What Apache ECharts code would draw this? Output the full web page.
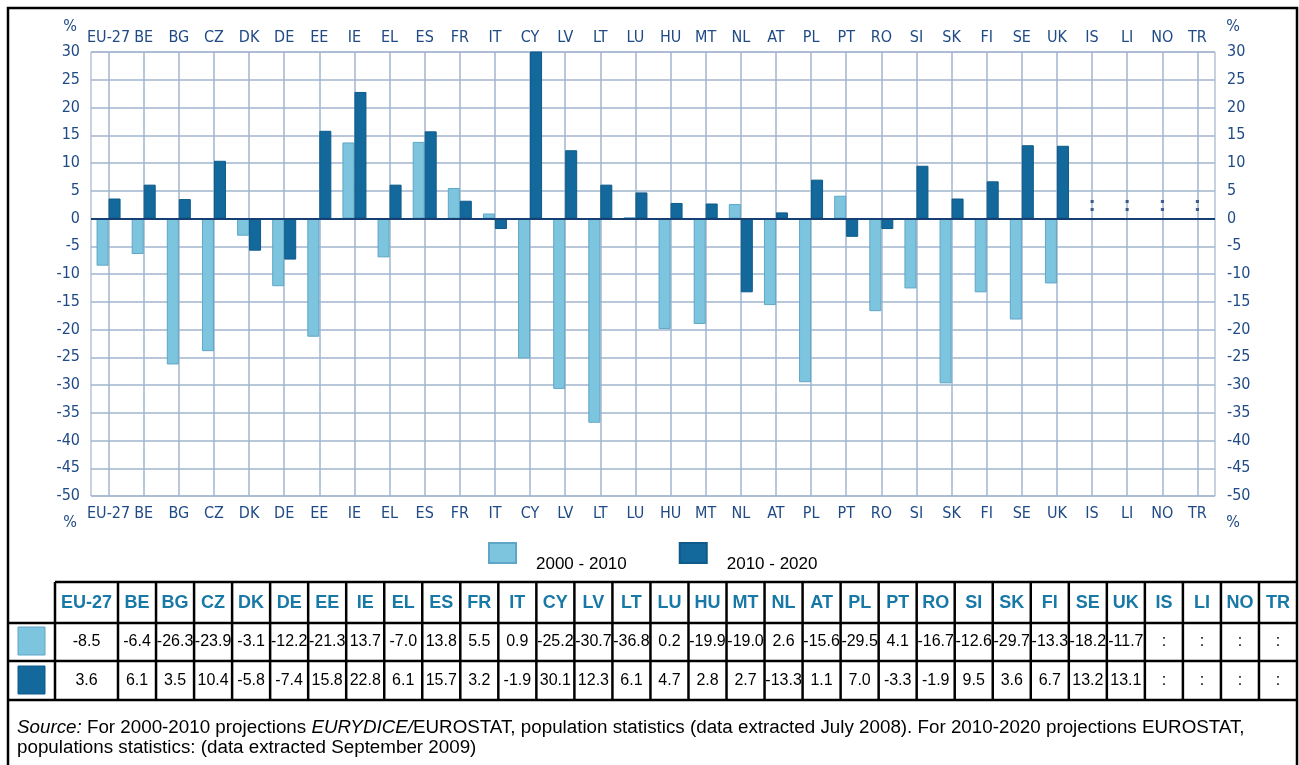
<!DOCTYPE html>
<html>
<head>
<meta charset="utf-8">
<title>Population change 2000-2010 / 2010-2020</title>
<script src="https://cdn.jsdelivr.net/npm/echarts@6/dist/echarts.min.js"></script>
<style>
  html, body { margin: 0; padding: 0; background: #fff; }
  #main { width: 1299px; height: 765px; }
</style>
</head>
<body>
<div id="main"></div>
<script>
// data
var categories = ['EU-27', 'BE', 'BG', 'CZ', 'DK', 'DE', 'EE', 'IE', 'EL', 'ES', 'FR', 'IT', 'CY', 'LV', 'LT', 'LU',
  'HU', 'MT', 'NL', 'AT', 'PL', 'PT', 'RO', 'SI', 'SK', 'FI', 'SE', 'UK', 'IS', 'LI', 'NO', 'TR'];
var change2000 = [-8.5, -6.4, -26.3, -23.9, -3.1, -12.2, -21.3, 13.7, -7.0, 13.8, 5.5, 0.9, -25.2, -30.7, -36.8, 0.2,
  -19.9, -19.0, 2.6, -15.6, -29.5, 4.1, -16.7, -12.6, -29.7, -13.3, -18.2, -11.7, ':', ':', ':', ':'];
var change2010 = [3.6, 6.1, 3.5, 10.4, -5.8, -7.4, 15.8, 22.8, 6.1, 15.7, 3.2, -1.9, 30.1, 12.3, 6.1, 4.7,
  2.8, 2.7, -13.3, 1.1, 7.0, -3.3, -1.9, 9.5, 3.6, 6.7, 13.2, 13.1, ':', ':', ':', ':'];
var seriesNames = ['2000 - 2010', '2010 - 2020'];
var yMin = -50, yMax = 30, yStep = 5;

var LIGHT = '#7dc4de', DARK = '#13699c';
var NAVY = '#1f4a85', GRIDC = '#a2b5ce';
var AXIS_FONT = "'Liberation Sans Narrow', 'DejaVu Sans Condensed', 'Liberation Sans', sans-serif";
var TABLE_FONT = "'Liberation Sans', Arial, sans-serif";

function toBar(arr) {
  return arr.map(function (v) { return typeof v === 'number' ? v : '-'; });
}
function fmt(v) {
  return typeof v === 'number' ? v.toFixed(1) : v;
}

var naPoints = [];
categories.forEach(function (c, i) {
  if (change2010[i] === ':') naPoints.push([c, 0]);
});

// table under the chart, built with graphic elements
var graphic = [];
var colW = (1297 - 118) / 31;
function colLeft(i) { return i === 0 ? 55 : 118 + (i - 1) * colW; }
function colRight(i) { return 118 + i * colW; }
function line(x1, y1, x2, y2, w) {
  graphic.push({ type: 'line', shape: { x1: x1, y1: y1, x2: x2, y2: y2 },
    style: { stroke: '#000', lineWidth: w || 2.5 }, silent: true });
}
function text(str, x, y, opts) {
  var st = { text: str, x: x, y: y, fill: opts.fill || '#000', fontSize: opts.size || 16,
    fontFamily: opts.family || TABLE_FONT, fontWeight: opts.weight || 'normal',
    align: opts.align || 'center', verticalAlign: 'middle',
    textAlign: opts.align || 'center', textVerticalAlign: 'middle' };
  graphic.push({ type: 'text', style: st, silent: true });
}

// outer frame
graphic.push({ type: 'rect', shape: { x: 8, y: 8, width: 1289, height: 762 },
  style: { fill: 'none', stroke: '#000', lineWidth: 2.5 }, silent: true });

var rowY = [582, 623, 661, 700];
line(55, rowY[0], 1297, rowY[0]);
line(8, rowY[1], 1297, rowY[1]);
line(8, rowY[2], 1297, rowY[2]);
line(8, rowY[3], 1297, rowY[3]);
line(55, rowY[0], 55, rowY[3]);
for (var i = 0; i < categories.length - 1; i++) {
  line(colRight(i), rowY[0], colRight(i), rowY[3]);
}
categories.forEach(function (c, i) {
  var cx = (colLeft(i) + colRight(i)) / 2;
  text(c, cx, 603, { fill: '#1878a6', size: 18, weight: 'bold' });
  text(fmt(change2000[i]), cx, 642, { size: 16 });
  text(fmt(change2010[i]), cx, 681, { size: 16 });
});
graphic.push({ type: 'rect', shape: { x: 18, y: 627, width: 27, height: 28 },
  style: { fill: LIGHT, stroke: '#5fa6c6', lineWidth: 1 }, silent: true });
graphic.push({ type: 'rect', shape: { x: 18, y: 666, width: 27, height: 28 },
  style: { fill: DARK, stroke: '#0e5a88', lineWidth: 1 }, silent: true });

// source note
graphic.push({
  type: 'text', silent: true,
  style: {
    x: 17, y: 718,
    text: '{i|Source:} For 2000-2010 projections {i|EURYDICE/}EUROSTAT, population statistics (data extracted July 2008). For 2010-2020 projections EUROSTAT,\npopulations statistics: (data extracted September 2009)',
    fontSize: 18.8, fontFamily: TABLE_FONT, fill: '#000', lineHeight: 20,
    rich: { i: { fontStyle: 'italic', fontSize: 18.8, fontFamily: TABLE_FONT, fill: '#000', lineHeight: 20 } }
  }
});

// "%" marks above and below both value axes
text('%', 70, 27, { fill: NAVY, size: 16, family: AXIS_FONT });
text('%', 1233, 27, { fill: NAVY, size: 16, family: AXIS_FONT });
text('%', 70, 523, { fill: NAVY, size: 16, family: AXIS_FONT });
text('%', 1233, 523, { fill: NAVY, size: 16, family: AXIS_FONT });

var myChart = echarts.init(document.getElementById('main'));

var axisLabelStyle = { color: NAVY, fontSize: 16, fontFamily: AXIS_FONT };

var option = {
  backgroundColor: '#fff',
  animation: false,
  grid: {
    left: 91, right: 84, top: 52, bottom: 269,
    show: true, borderColor: '#8fa6c3', borderWidth: 1,
    outerBoundsMode: 'none'
  },
  legend: {
    data: seriesNames,
    top: 542, left: 488, padding: 0,
    itemWidth: 27, itemHeight: 20, itemGap: 52,
    icon: 'rect',
    formatter: '{t|{name}}',
    textStyle: {
      fontSize: 17, fontFamily: TABLE_FONT, color: '#000',
      rich: { t: { fontSize: 17, fontFamily: TABLE_FONT, color: '#000', padding: [22, 0, 0, 15] } }
    }
  },
  xAxis: [
    {
      type: 'category', data: categories, position: 'bottom',
      axisLine: { show: false }, axisTick: { show: false },
      axisLabel: Object.assign({ interval: 0, margin: 10 }, axisLabelStyle),
      splitLine: { show: false }
    },
    {
      type: 'category', data: categories, position: 'top',
      axisLine: { show: false }, axisTick: { show: false },
      axisLabel: Object.assign({ interval: 0, margin: 6 }, axisLabelStyle),
      splitLine: { show: false }
    }
  ],
  yAxis: [
    {
      type: 'value', min: yMin, max: yMax, interval: yStep, position: 'left',
      axisLine: { show: false }, axisTick: { show: false },
      axisLabel: Object.assign({ margin: 11 }, axisLabelStyle),
      splitLine: { show: true, lineStyle: { color: GRIDC, width: 1.5 } }
    },
    {
      type: 'value', min: yMin, max: yMax, interval: yStep, position: 'right',
      axisLine: { show: false }, axisTick: { show: false },
      axisLabel: Object.assign({ margin: 12 }, axisLabelStyle),
      splitLine: { show: false }
    }
  ],
  series: [
    {
      name: seriesNames[0], type: 'bar', data: toBar(change2000),
      barWidth: 12, barGap: '0%', z: 3,
      itemStyle: { color: LIGHT, borderColor: '#5fa6c6', borderWidth: 1 }
    },
    {
      name: seriesNames[1], type: 'bar', data: toBar(change2010),
      barWidth: 12, barGap: '0%', z: 3,
      itemStyle: { color: DARK, borderColor: '#0e5a88', borderWidth: 1 },
      markLine: {
        silent: true, symbol: 'none', animation: false, z: 6,
        label: { show: false },
        lineStyle: { color: '#163f73', width: 2, type: 'solid' },
        data: [{ yAxis: 0 }]
      }
    },
    {
      name: 'n/a', type: 'scatter', data: naPoints, z: 1,
      symbolSize: 1, itemStyle: { color: 'rgba(0,0,0,0)' },
      label: { show: true, formatter: ':', position: 'top', distance: 2,
        color: '#163f73', fontSize: 22, fontWeight: 'bold', fontFamily: TABLE_FONT },
      // vertical grid lines through each country's centre
      markLine: {
        silent: true, symbol: 'none', animation: false, z: 1,
        label: { show: false },
        lineStyle: { color: GRIDC, width: 1.5, type: 'solid' },
        data: categories.map(function (c) { return { xAxis: c }; })
      }
    }
  ],
  graphic: graphic
};

myChart.setOption(option);
</script>
</body>
</html>
